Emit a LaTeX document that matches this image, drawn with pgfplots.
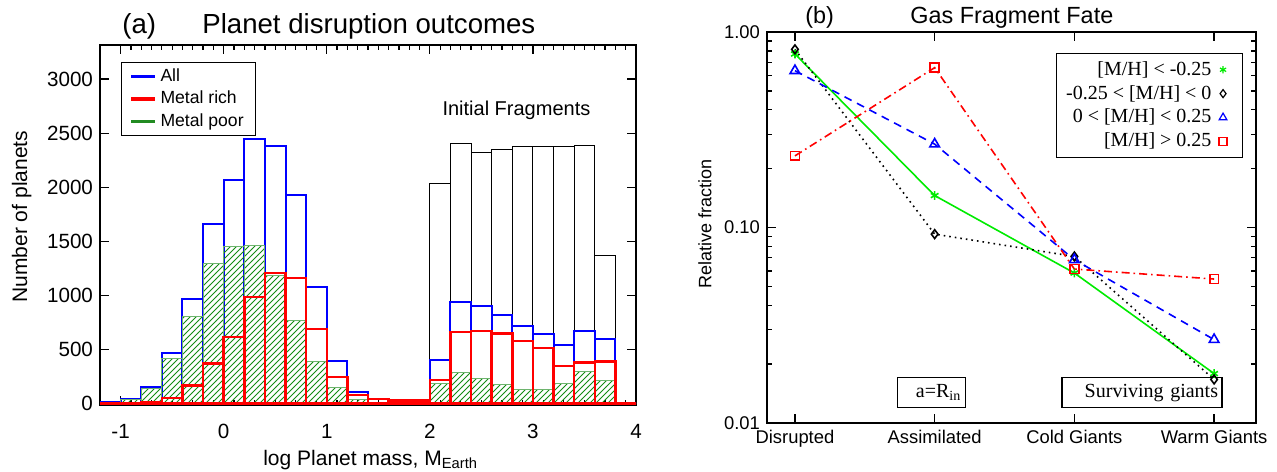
\documentclass[border=0pt]{standalone}
\usepackage{fontspec}
\setmainfont{Liberation Sans}
\newfontfamily\timesfont{Liberation Serif}
\usepackage{pgfplots}
\pgfplotsset{compat=1.18}
\usepackage{pgfplotstable}
\usetikzlibrary{patterns}
\definecolor{hatchgreen}{RGB}{20,140,20}
\definecolor{legendgreen}{RGB}{34,139,34}
\definecolor{bargreen}{RGB}{110,180,110}
\definecolor{brightgreen}{RGB}{0,235,0}

\pgfplotstableread{
x y
2.0 2033
2.2 2402
2.4 2325
2.6 2347
2.8 2378
3.0 2372
3.2 2378
3.4 2381
3.6 1368
3.8 0
}\initial

\pgfplotstableread{
x y
-1.2 15
-1.0 45
-0.8 150
-0.6 468
-0.4 965
-0.2 1663
0.0 2064
0.2 2449
0.4 2384
0.6 1928
0.8 1075
1.0 388
1.2 108
1.4 45
1.6 34
1.8 34
2.0 397
2.2 939
2.4 899
2.6 819
2.8 715
3.0 644
3.2 539
3.4 665
3.6 594
3.8 0
4.0 0
}\allp

\pgfplotstableread{
x y
-1.2 3
-1.0 40
-0.8 139
-0.6 419
-0.4 801
-0.2 1294
0.0 1448
0.2 1460
0.4 1183
0.6 770
0.8 385
1.0 151
1.2 37
1.4 8
1.6 6
1.8 6
2.0 182
2.2 283
2.4 231
2.6 172
2.8 132
3.0 126
3.2 188
3.4 293
3.6 209
3.8 0
4.0 0
}\poor

\pgfplotstableread{
x y
-1.2 0
-1.0 3
-0.8 8
-0.6 52
-0.4 166
-0.2 367
0.0 616
0.2 986
0.4 1207
0.6 1161
0.8 690
1.0 243
1.2 77
1.4 40
1.6 25
1.8 28
2.0 216
2.2 662
2.4 668
2.6 647
2.8 579
3.0 514
3.2 348
3.4 376
3.6 388
3.8 0
4.0 0
}\rich

\begin{document}
\begin{tikzpicture}
\useasboundingbox (0,0) rectangle (638.5pt,235.5pt);

\node[anchor=base west, inner sep=0pt, font=\fontsize{13.8}{16}\selectfont] at (61pt,218.5pt) {(a)};
\node[anchor=base west, inner sep=0pt, font=\fontsize{13.8}{16}\selectfont] at (101pt,218.5pt) {Planet disruption outcomes};
\node[anchor=base west, inner sep=0pt, font=\fontsize{11.7}{14}\selectfont] at (402.5pt,223.5pt) {(b)};
\node[anchor=base west, inner sep=0pt, font=\fontsize{11.7}{14}\selectfont] at (455pt,223.5pt) {Gas Fragment Fate};

\begin{axis}[
  at={(50pt,33pt)}, anchor=south west, scale only axis,
  width=268pt, height=180pt,
  xmin=-1.2, xmax=4, ymin=-15, ymax=3315,
  xtick={-1,0,1,2,3,4}, xticklabels={-1,0,1,2,3,4},
  minor x tick num=9,
  ytick={0,500,1000,1500,2000,2500,3000},
  yticklabels={0,500,1000,1500,2000,2500,3000},
  tick align=inside, major tick length=4.5pt, minor tick length=2.5pt,
  axis line style={line width=0.8pt},
  every tick/.style={black, line width=0.6pt},
  tick label style={font=\fontsize{10.3}{12}\selectfont},
  xticklabel style={yshift=-6pt},
  label style={font=\fontsize{10.5}{12}\selectfont},
  xlabel={log Planet mass, M\textsubscript{Earth}},
  ylabel={Number of planets},
  xlabel style={at={(axis description cs:0.505,-0.168)}, anchor=base},
  ylabel style={at={(axis description cs:-0.146,0.523)}, anchor=center},
  legend style={at={(0.039,0.953)}, anchor=north west, draw=black, line width=0.6pt,
    font=\fontsize{8.8}{9.5}\selectfont, row sep=-0.6pt, inner xsep=4pt, inner ysep=1pt},
  legend cell align=left,
  legend image code/.code={\draw[#1, line width=1.8pt] (0pt,0pt) -- (11.7pt,0pt);},
]
\addlegendimage{blue}
\addlegendimage{red}
\addlegendimage{legendgreen}
\addplot[ybar interval, draw=black, line width=0.5pt, fill=none, forget plot] table {\initial};
\addplot[ybar interval, draw=blue, line width=1pt, fill=none, forget plot] table {\allp};
\addplot[ybar interval, draw=bargreen, line width=0.5pt, pattern=north east lines, pattern color=hatchgreen, forget plot] table {\poor};
\addplot[ybar interval, draw=red, line width=1.25pt, fill=none, forget plot] table {\rich};
\node[font=\fontsize{10}{12}\selectfont] at (axis cs:2.84,2713) {Initial Fragments};
\legend{All,Metal rich,Metal poor}
\end{axis}

\begin{axis}[
  at={(383.5pt,24pt)}, anchor=south west, scale only axis,
  width=244.5pt, height=195.5pt,
  ymode=log, xmin=-0.2, xmax=3.3, ymin=0.01, ymax=1,
  xtick={0,1,2,3}, xticklabels={Disrupted,Assimilated,Cold Giants,Warm Giants},
  ytick={0.01,0.1,1}, yticklabels={0.01,0.10,1.00},
  minor ytick={0.02,0.03,0.04,0.05,0.06,0.07,0.08,0.09,0.2,0.3,0.4,0.5,0.6,0.7,0.8,0.9},
  tick align=inside, major tick length=4.5pt, minor tick length=2.5pt,
  axis line style={line width=1.2pt},
  every tick/.style={black, line width=0.7pt},
  tick label style={font=\fontsize{9.2}{11}\selectfont},
  ylabel={Relative fraction},
  ylabel style={at={(axis description cs:-0.127,0.509)}, anchor=center, font=\fontsize{9}{11}\selectfont},
  legend style={at={(0.590,0.947)}, anchor=north west, draw=black, line width=0.6pt,
    font=\timesfont\fontsize{10}{11}\selectfont, row sep=-0.5pt, inner xsep=3pt, inner ysep=2pt},
  legend cell align=right,
  legend plot pos=right,
  legend image code/.code={\path (0pt,0pt) (10pt,0pt); \draw[#1] plot coordinates {(3.5pt,0pt)};},
]
\addlegendimage{only marks, mark=asterisk, brightgreen, mark size=1.8pt}
\addlegendentry{\mbox{[M/H]} < -0.25}
\addlegendimage{only marks, mark=diamond, black, mark size=2pt}
\addlegendentry{-0.25 < \mbox{[M/H]} < 0}
\addlegendimage{only marks, mark=triangle, blue, mark size=2.2pt}
\addlegendentry{0 < \mbox{[M/H]} < 0.25}
\addlegendimage{only marks, mark=square, red, mark size=2pt}
\addlegendentry{\mbox{[M/H]} > 0.25}
\node[draw, line width=0.6pt, font=\timesfont\fontsize{10}{11}\selectfont, text width=30pt, align=right, minimum height=15pt, inner sep=2pt] at (rel axis cs:0.336,0.0775) {a=R\textsubscript{in}};
\node[draw, line width=0.6pt, font=\timesfont\fontsize{10}{11}\selectfont, text width=76pt, align=right, minimum height=15pt, inner sep=2pt] at (rel axis cs:0.767,0.0775) {Surviving giants};
\addplot[brightgreen, line width=0.8pt, mark=asterisk, mark size=2.2pt, forget plot] coordinates {(0,0.772) (1,0.1457) (2,0.0585) (3,0.0179)};
\addplot[black, line width=0.8pt, dash pattern=on 0.8pt off 2pt, mark=diamond, mark size=2.2pt, mark options={solid}, forget plot] coordinates {(0,0.815) (1,0.0925) (2,0.0711) (3,0.0167)};
\addplot[blue, line width=0.8pt, dash pattern=on 4pt off 3pt, mark=triangle, mark size=2.8pt, mark options={solid}, forget plot] coordinates {(0,0.634) (1,0.267) (2,0.0684) (3,0.0267)};
\addplot[red, line width=0.8pt, dash pattern=on 4pt off 2pt on 0.8pt off 2pt, mark=square, mark size=2.2pt, mark options={solid}, forget plot] coordinates {(0,0.2325) (1,0.657) (2,0.0613) (3,0.0545)};
\end{axis}
\end{tikzpicture}
\end{document}
